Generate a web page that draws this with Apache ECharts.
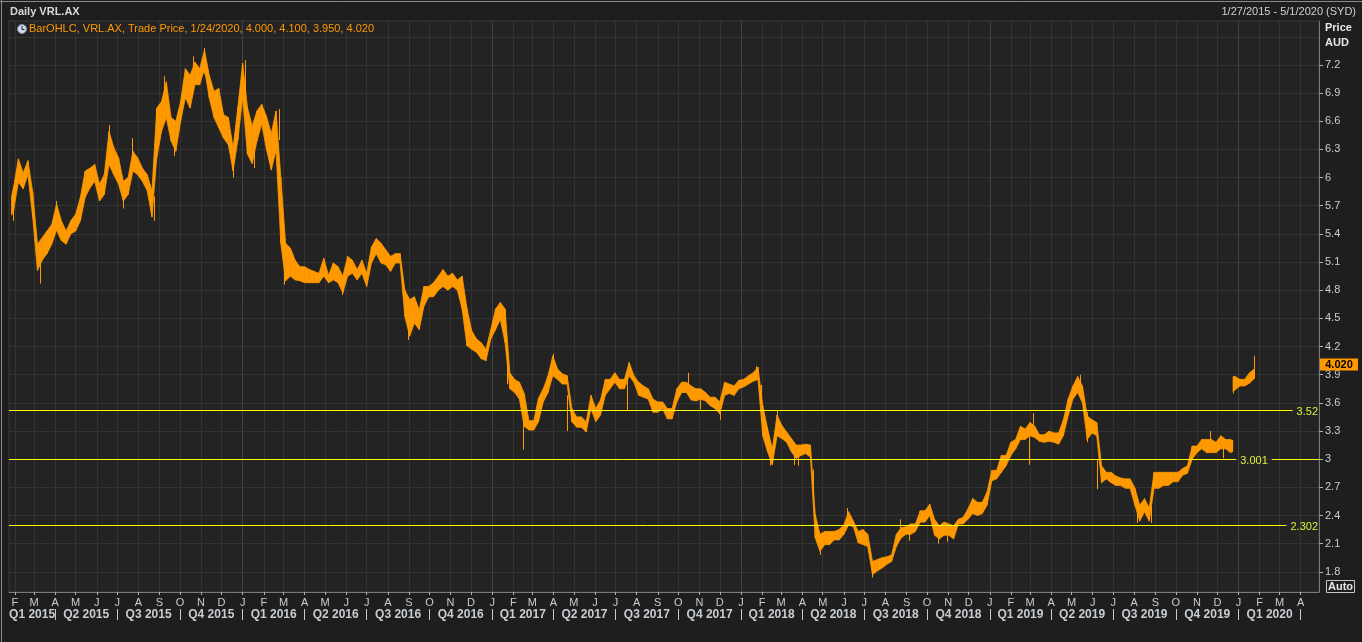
<!DOCTYPE html>
<html><head><meta charset="utf-8">
<script src="https://cdn.jsdelivr.net/npm/echarts@6/dist/echarts.min.js"></script>
<style>html,body{margin:0;padding:0;background:#1e1e1e;overflow:hidden}#chart{width:1362px;height:642px}</style>
</head><body><div id="chart"></div>
<script>
// ---------- DATA ----------
const dates = [
'2015-01-27','2015-01-30','2015-02-06','2015-02-13','2015-02-20','2015-02-27','2015-03-06','2015-03-13','2015-03-20','2015-03-27',
'2015-04-03','2015-04-10','2015-04-17','2015-04-24','2015-05-01','2015-05-08','2015-05-15','2015-05-22','2015-05-29','2015-06-05',
'2015-06-12','2015-06-19','2015-06-26','2015-07-03','2015-07-10','2015-07-17','2015-07-24','2015-07-31','2015-08-07','2015-08-14',
'2015-08-21','2015-08-28','2015-09-04','2015-09-11','2015-09-18','2015-09-25','2015-10-02','2015-10-09','2015-10-16','2015-10-23',
'2015-10-30','2015-11-06','2015-11-13','2015-11-20','2015-11-27','2015-12-04','2015-12-11','2015-12-18','2015-12-25',
'2016-01-01','2016-01-08','2016-01-15','2016-01-22','2016-01-29','2016-02-05','2016-02-12','2016-02-19','2016-02-26','2016-03-04',
'2016-03-11','2016-03-18','2016-03-25','2016-04-01','2016-04-08','2016-04-15','2016-04-22','2016-04-29','2016-05-06','2016-05-13',
'2016-05-20','2016-05-27','2016-06-03','2016-06-10','2016-06-17','2016-06-24','2016-07-01','2016-07-08','2016-07-15','2016-07-22',
'2016-07-29','2016-08-05','2016-08-12','2016-08-19','2016-08-26','2016-09-02','2016-09-09','2016-09-16','2016-09-23','2016-09-30',
'2016-10-07','2016-10-14','2016-10-21','2016-10-28','2016-11-04','2016-11-11','2016-11-18','2016-11-25','2016-12-02','2016-12-09',
'2016-12-16','2016-12-23','2016-12-30',
'2017-01-06','2017-01-13','2017-01-20','2017-01-27','2017-02-03','2017-02-10','2017-02-17','2017-02-24','2017-03-03','2017-03-10',
'2017-03-17','2017-03-24','2017-03-31','2017-04-07','2017-04-14','2017-04-21','2017-04-28','2017-05-05','2017-05-12','2017-05-19',
'2017-05-26','2017-06-02','2017-06-09','2017-06-16','2017-06-23','2017-06-30','2017-07-07','2017-07-14','2017-07-21','2017-07-28',
'2017-08-04','2017-08-11','2017-08-18','2017-08-25','2017-09-01','2017-09-08','2017-09-15','2017-09-22','2017-09-29','2017-10-06',
'2017-10-13','2017-10-20','2017-10-27','2017-11-03','2017-11-10','2017-11-17','2017-11-24','2017-12-01','2017-12-08','2017-12-15',
'2017-12-22','2017-12-29',
'2018-01-05','2018-01-12','2018-01-19','2018-01-26','2018-02-02','2018-02-09','2018-02-16','2018-02-23','2018-03-02','2018-03-09',
'2018-03-16','2018-03-23','2018-03-30','2018-04-06','2018-04-13','2018-04-20','2018-04-27','2018-05-04','2018-05-11','2018-05-18',
'2018-05-25','2018-06-01','2018-06-08','2018-06-15','2018-06-22','2018-06-29','2018-07-06','2018-07-13','2018-07-20','2018-07-27',
'2018-08-03','2018-08-10','2018-08-17','2018-08-24','2018-08-31','2018-09-07','2018-09-14','2018-09-21','2018-09-28','2018-10-05',
'2018-10-12','2018-10-19','2018-10-26','2018-11-02','2018-11-09','2018-11-16','2018-11-23','2018-11-30','2018-12-07','2018-12-14',
'2018-12-21','2018-12-28',
'2019-01-04','2019-01-11','2019-01-18','2019-01-25','2019-02-01','2019-02-08','2019-02-15','2019-02-22','2019-03-01','2019-03-08',
'2019-03-15','2019-03-22','2019-03-29','2019-04-05','2019-04-12','2019-04-19','2019-04-26','2019-05-03','2019-05-10','2019-05-17',
'2019-05-24','2019-05-31','2019-06-07','2019-06-14','2019-06-21','2019-06-28','2019-07-05','2019-07-12','2019-07-19','2019-07-26',
'2019-08-02','2019-08-09','2019-08-16','2019-08-23','2019-08-30','2019-09-06','2019-09-13','2019-09-20','2019-09-27','2019-10-04',
'2019-10-11','2019-10-18','2019-10-25','2019-11-01','2019-11-08','2019-11-15','2019-11-22','2019-11-29','2019-12-06','2019-12-13',
'2019-12-20','2019-12-23','2019-12-23','2019-12-24','2019-12-27',
'2020-01-03','2020-01-10','2020-01-17','2020-01-24'
];
const highs = [
5.80,5.90,6.20,6.05,6.18,5.85,5.29,5.36,5.43,5.50,
5.72,5.54,5.43,5.54,5.61,5.79,6.07,6.10,6.14,5.93,
6.03,6.49,6.32,6.21,5.96,6.00,6.28,6.21,6.10,6.03,
5.86,6.74,6.81,7.02,6.64,6.60,6.81,7.16,7.09,7.23,
7.16,7.36,7.09,6.92,6.95,6.67,6.64,6.32,6.75,
7.22,6.75,6.55,6.71,6.78,6.65,6.47,6.71,6.00,5.30,
5.25,5.12,5.05,5.05,5.02,5.00,4.98,5.14,4.96,5.09,
5.05,4.95,5.16,5.12,5.02,5.12,4.98,5.26,5.35,5.30,
5.23,5.16,5.19,5.19,4.80,4.70,4.73,4.59,4.84,4.84,
4.88,4.95,5.02,4.95,4.98,4.91,4.95,4.61,4.37,4.28,
4.24,4.17,4.38,
4.60,4.67,4.60,3.92,3.85,3.82,3.70,3.41,3.41,3.65,
3.75,3.89,4.10,3.96,3.91,3.89,3.54,3.45,3.45,3.40,
3.68,3.54,3.63,3.85,3.85,3.92,3.85,3.85,4.03,3.89,
3.82,3.78,3.75,3.64,3.61,3.61,3.54,3.54,3.75,3.82,
3.82,3.78,3.75,3.75,3.71,3.66,3.66,3.61,3.82,3.80,
3.78,3.84,
3.85,3.89,3.92,3.98,3.57,3.33,3.11,3.47,3.36,3.29,
3.22,3.15,3.15,3.16,3.15,2.41,2.20,2.23,2.23,2.23,
2.25,2.30,2.44,2.34,2.23,2.25,2.20,1.91,1.93,1.95,
1.96,1.98,2.20,2.27,2.28,2.31,2.31,2.45,2.45,2.52,
2.36,2.29,2.33,2.31,2.29,2.36,2.38,2.47,2.58,2.54,
2.54,2.65,
2.88,2.88,3.04,3.04,3.18,3.21,3.35,3.32,3.39,3.35,
3.26,3.26,3.30,3.28,3.28,3.42,3.64,3.78,3.88,3.78,
3.46,3.42,3.39,2.93,2.86,2.86,2.82,2.80,2.79,2.79,
2.69,2.51,2.58,2.48,2.86,2.86,2.86,2.86,2.86,2.86,
2.90,2.93,3.14,3.14,3.21,3.21,3.21,3.18,3.25,3.21,
3.21,3.20,null,3.88,3.88,
3.85,3.85,3.92,3.96
];
const lows = [
5.60,5.65,5.95,5.88,6.03,5.58,5.01,5.12,5.19,5.29,
5.44,5.33,5.29,5.40,5.43,5.54,5.79,5.89,5.96,5.75,
5.82,6.14,6.03,5.93,5.75,5.82,6.07,6.03,5.96,5.86,
5.58,6.21,6.49,6.64,6.39,6.28,6.60,6.85,6.74,6.99,
6.99,7.16,6.85,6.64,6.53,6.42,6.35,6.07,6.40,
6.85,6.25,6.15,6.39,6.57,6.30,6.08,6.29,5.30,4.90,
4.95,4.91,4.90,4.88,4.88,4.88,4.88,4.95,4.88,4.91,
4.88,4.77,4.95,4.98,4.91,4.98,4.84,5.09,5.19,5.09,
5.07,5.00,5.09,5.09,4.52,4.31,4.45,4.38,4.63,4.73,
4.73,4.80,4.84,4.80,4.84,4.80,4.60,4.21,4.17,4.14,
4.07,4.05,4.28,
4.38,4.49,4.24,3.75,3.71,3.64,3.35,3.31,3.31,3.40,
3.61,3.71,3.89,3.85,3.80,3.80,3.40,3.34,3.34,3.29,
3.54,3.40,3.47,3.68,3.75,3.82,3.75,3.75,3.89,3.82,
3.68,3.66,3.64,3.50,3.50,3.54,3.43,3.43,3.61,3.71,
3.71,3.63,3.62,3.64,3.62,3.57,3.54,3.48,3.68,3.70,
3.68,3.75,
3.77,3.80,3.83,3.85,3.25,3.08,2.94,3.25,3.22,3.18,
3.08,3.01,3.04,3.06,3.02,2.16,2.02,2.09,2.09,2.14,
2.14,2.20,2.30,2.28,2.11,2.09,2.07,1.77,1.81,1.84,
1.88,1.91,2.07,2.16,2.20,2.20,2.23,2.33,2.33,2.40,
2.19,2.15,2.19,2.19,2.15,2.31,2.31,2.36,2.42,2.40,
2.42,2.51,
2.77,2.79,2.86,2.93,3.04,3.11,3.21,3.21,3.25,3.23,
3.19,3.18,3.19,3.18,3.16,3.25,3.46,3.64,3.71,3.60,
3.21,3.28,3.25,2.75,2.79,2.75,2.72,2.72,2.69,2.69,
2.51,2.34,2.44,2.34,2.69,2.69,2.72,2.72,2.76,2.76,
2.83,2.85,3.00,3.07,3.11,3.07,3.07,3.07,3.11,3.11,
3.07,3.08,null,3.72,3.74,
3.78,3.78,3.81,3.86
];
// isolated daily extremes (wicks) visible beyond the weekly band
const spikeDates = ['2015-01-29','2015-03-09','2015-04-02','2015-06-19','2015-07-09','2015-07-22','2015-08-24','2015-09-08','2015-09-23','2015-10-20',
'2015-11-06','2015-12-18','2016-01-04','2016-01-18','2016-02-24','2016-03-01','2016-05-26','2016-08-31','2016-11-18','2017-01-23',
'2017-02-16','2017-03-31','2017-04-21','2017-07-18','2017-10-16','2017-11-02','2017-12-01','2018-01-23','2018-01-30','2018-02-13',
'2018-02-23','2018-03-20','2018-03-26','2018-04-16','2018-04-27','2018-06-05','2018-07-12','2018-08-23','2018-09-05','2018-10-17',
'2018-10-31','2019-02-27','2019-03-06','2019-05-13','2019-05-23','2019-06-07','2019-08-05','2019-08-26','2019-11-20','2019-12-09',
'2019-12-24','2020-01-24'];
const spikeLows = [5.54,4.87,5.50,6.20,5.67,6.10,5.54,6.70,6.23,7.00,
7.10,6.00,6.90,6.10,6.40,4.86,4.75,4.27,4.56,3.80,
3.10,3.90,3.30,3.52,3.70,3.53,3.42,3.85,3.40,2.93,
3.30,2.94,2.93,2.55,1.98,2.30,1.74,2.20,2.13,2.10,
2.12,2.94,3.30,3.75,3.18,2.68,2.32,2.32,3.10,3.01,
3.70,3.95];
const spikeHighs = [5.80,5.10,5.75,6.56,5.90,6.42,5.80,7.08,6.50,7.29,
7.38,6.30,7.25,6.40,6.73,5.20,4.95,4.50,4.80,4.14,
3.50,4.12,3.68,3.90,3.92,3.70,3.60,3.99,3.79,3.10,
3.52,3.15,3.10,2.89,2.20,2.48,1.90,2.36,2.25,2.25,
2.25,3.25,3.49,3.90,3.50,3.00,2.50,2.50,3.30,3.15,
3.85,4.10];

const levels = [3.52, 3.001, 2.302];
const levelLabels = ['3.52', '3.001', '2.302'];

const priceLabels = [1.8, 2.1, 2.4, 2.7, 3, 3.3, 3.6, 3.9, 4.2, 4.5, 4.8, 5.1, 5.4, 5.7, 6, 6.3, 6.6, 6.9, 7.2];
const priceGrid = [1.8, 2.1, 2.4, 2.7, 3, 3.3, 3.6, 3.9, 4.2, 4.5, 4.8, 5.1, 5.4, 5.7, 6, 6.3, 6.6, 6.9, 7.2, 7.5];
const monthLetters = ['J','F','M','A','M','J','J','A','S','O','N','D'];

const legendText = 'BarOHLC, VRL.AX, Trade Price, 1/24/2020, 4.000, 4.100, 3.950, 4.020';
const lastClose = 4.020;
const titleText = 'Daily VRL.AX';
const rangeText = '1/27/2015 - 5/1/2020 (SYD)';

// ---------- STYLE / HELPERS ----------
const ORANGE = '#ff9900';
const FONT = '"Liberation Sans", Arial, sans-serif';
const AXIS_TXT = '#c8cdd2';
const ts = s => { const p = s.split('-').map(Number); return new Date(p[0], p[1] - 1, p[2]).getTime(); };
const xMin = new Date(2015, 0, 23, 6).getTime();
const xMax = new Date(2020, 3, 28).getTime();
const yMin = 1.585, yMax = 7.668;

const monthTicks = [];
const quarterTicks = [];
for (let y = 2015; y <= 2020; y++) for (let m = 0; m < 12; m++) {
  const t = new Date(y, m, 1).getTime();
  if (t > xMin && t < xMax) { monthTicks.push(t); if (m % 3 === 0) quarterTicks.push(t); }
}
const quarterCenters = [];
for (let y = 2015; y <= 2020; y++) for (let q = 0; q < 4; q++) {
  const a = Math.max(new Date(y, q * 3, 1).getTime(), xMin);
  const b = Math.min(new Date(y, q * 3 + 3, 1).getTime(), xMax);
  if (b - a > 40 * 86400000) quarterCenters.push(Math.round((a + b) / 2));
}
const janColors = monthTicks.map(t => new Date(t).getMonth() === 0 ? '#424242' : '#333333');

const chart = echarts.init(document.getElementById('chart'));
const X = dates.map(ts);

function ribbon(params, api) {
  const i = params.dataIndex, j = i + 1;
  if (highs[i] == null) return null;
  if (j >= X.length || highs[j] == null) {
    const a = api.coord([X[i], highs[i]]), b = api.coord([X[i], lows[i]]);
    return { type: 'line', shape: { x1: a[0], y1: a[1], x2: b[0], y2: b[1] }, style: { stroke: ORANGE, lineWidth: 1.5 } };
  }
  const p1 = api.coord([X[i], highs[i]]), p2 = api.coord([X[j], highs[j]]);
  const p3 = api.coord([X[j], lows[j]]), p4 = api.coord([X[i], lows[i]]);
  return { type: 'polygon', shape: { points: [p1, p2, p3, p4] }, style: { fill: ORANGE, stroke: ORANGE, lineWidth: 0.8 } };
}
function spike(params, api) {
  const a = api.coord([api.value(0), api.value(2)]), b = api.coord([api.value(0), api.value(1)]);
  const x = Math.round(a[0]) + 0.5;
  return { type: 'line', shape: { x1: x, y1: a[1], x2: x, y2: b[1] }, style: { stroke: ORANGE, lineWidth: 1 } };
}
const measure = (() => { const c = document.createElement('canvas').getContext('2d'); c.font = '11px ' + FONT; return s => c.measureText(s).width; })();
const levelLabelMode = ['right', 'center', 'right'];
function levelLine(params, api) {
  const i = params.dataIndex, cs = params.coordSys;
  const y = Math.round(api.coord([xMin, api.value(1)])[1]) + 0.5;
  const left = cs.x, right = cs.x + cs.width;
  const w = measure(levelLabels[i]);
  const tx = levelLabelMode[i] === 'right' ? right - 1 - w : right - 65 - w / 2;
  const children = [
    { type: 'line', shape: { x1: left, y1: y, x2: tx - 4, y2: y }, style: { stroke: '#ffff00', lineWidth: 1 } },
    { type: 'text', style: { text: levelLabels[i], x: tx, y: y + 1, fill: '#dcf03c', font: '11px ' + FONT, align: 'left', verticalAlign: 'middle' } }
  ];
  if (tx + w + 4 < right - 6) children.push({ type: 'line', shape: { x1: tx + w + 4, y1: y, x2: right, y2: y }, style: { stroke: '#ffff00', lineWidth: 1 } });
  return { type: 'group', children };
}

const option = {
  animation: false,
  backgroundColor: '#1e1e1e',
  textStyle: { fontFamily: FONT },
  grid: { left: 9, right: 43, top: 21, bottom: 50, show: true, backgroundColor: '#232323', borderColor: '#3a3a3a', borderWidth: 1, containLabel: false, outerBoundsMode: 'none' },
  xAxis: [
    { type: 'value', min: xMin, max: xMax, position: 'bottom', scale: true,
      axisLine: { show: true, lineStyle: { color: '#7a7a7a', width: 1 } },
      axisTick: { show: true, customValues: monthTicks, length: 3, lineStyle: { color: '#b0b0b0' } },
      axisLabel: { customValues: monthTicks, color: AXIS_TXT, fontSize: 11, margin: 5, hideOverlap: false, showMinLabel: true, showMaxLabel: true,
        formatter: v => monthLetters[new Date(v).getMonth()] },
      splitLine: { show: true, lineStyle: { color: janColors, width: 1 } } },
    { type: 'value', min: xMin, max: xMax, position: 'bottom', offset: 17, scale: true,
      axisLine: { show: false },
      axisTick: { show: true, customValues: quarterTicks, length: 11, lineStyle: { color: '#c8c8c8' } },
      axisLabel: { customValues: quarterCenters, color: AXIS_TXT, fontSize: 12, fontWeight: 'bold', margin: 0, hideOverlap: false,
        formatter: v => { const d = new Date(v); return 'Q' + (Math.floor(d.getMonth() / 3) + 1) + ' ' + d.getFullYear(); } },
      splitLine: { show: false } }
  ],
  yAxis: [
    { type: 'value', position: 'right', min: yMin, max: yMax,
      axisLine: { show: true, lineStyle: { color: '#7a7a7a' } },
      axisTick: { show: true, customValues: priceLabels, length: 4, lineStyle: { color: '#b0b0b0' } },
      axisLabel: { customValues: priceLabels, color: AXIS_TXT, fontSize: 11, margin: 6, formatter: v => String(+(+v).toFixed(1)) },
      splitLine: { show: false } },
    { type: 'value', position: 'right', min: yMin, max: yMax,
      axisLine: { show: false }, axisLabel: { show: false },
      axisTick: { show: false, customValues: priceGrid },
      splitLine: { show: true, lineStyle: { color: '#333333' } } }
  ],
  series: [
    { type: 'custom', name: 'band', renderItem: ribbon, data: X.map((x, i) => [x, lows[i], highs[i]]), encode: { x: 0, y: [1, 2] }, z: 3, silent: true },
    { type: 'custom', name: 'wicks', renderItem: spike, data: spikeDates.map((d, i) => [ts(d), spikeLows[i], spikeHighs[i]]), encode: { x: 0, y: [1, 2] }, z: 3, silent: true },
    { type: 'custom', name: 'levels', renderItem: levelLine, data: levels.map(v => [xMin, v]), encode: { x: 0, y: 1 }, z: 5, silent: true }
  ],
  graphic: [
    { type: 'line', z: 50, shape: { x1: 0, y1: 1.5, x2: 1362, y2: 1.5 }, style: { stroke: '#8a8a8a', lineWidth: 1 } },
    { type: 'line', z: 50, shape: { x1: 1.5, y1: 0, x2: 1.5, y2: 642 }, style: { stroke: '#8a8a8a', lineWidth: 1 } },
    { type: 'text', z: 50, x: 10, y: 12, style: { text: titleText, fill: '#d8d8d8', font: 'bold 11px ' + FONT, verticalAlign: 'middle' } },
    { type: 'text', z: 50, x: 1356, y: 12, style: { text: rangeText, fill: '#d0d0d0', font: '11px ' + FONT, align: 'right', verticalAlign: 'middle' } },
    { type: 'circle', z: 50, shape: { cx: 22, cy: 29, r: 4.5 }, style: { fill: '#cfdcea', stroke: '#7c8fa3', lineWidth: 1 } },
    { type: 'polyline', z: 51, shape: { points: [[22, 26], [22, 29.5], [24.5, 29.5]] }, style: { stroke: '#1a1a1a', lineWidth: 1, fill: null } },
    { type: 'text', z: 50, x: 29, y: 29, style: { text: legendText, fill: ORANGE, font: '11px ' + FONT, verticalAlign: 'middle' } },
    { type: 'text', z: 50, x: 1325, y: 28, style: { text: 'Price', fill: '#e6e6e6', font: 'bold 11px ' + FONT, verticalAlign: 'middle' } },
    { type: 'text', z: 50, x: 1325, y: 43, style: { text: 'AUD', fill: '#e6e6e6', font: 'bold 11px ' + FONT, verticalAlign: 'middle' } },
    { type: 'rect', z: 50, shape: { x: 1326.5, y: 580.5, width: 28, height: 12 }, style: { fill: 'none', stroke: '#c8c8c8', lineWidth: 1 } },
    { type: 'text', z: 50, x: 1340.5, y: 587, style: { text: 'Auto', fill: '#e6e6e6', font: 'bold 11px ' + FONT, align: 'center', verticalAlign: 'middle' } }
  ]
};
chart.setOption(option);

const py = chart.convertToPixel({ yAxisIndex: 0 }, lastClose);
chart.setOption({ graphic: option.graphic.concat([
  { type: 'rect', z: 100, shape: { x: 1320, y: py - 5, width: 38, height: 12 }, style: { fill: ORANGE } },
  { type: 'text', z: 101, x: 1339, y: py + 1.5, style: { text: lastClose.toFixed(3), fill: '#000000', font: 'bold 11px ' + FONT, align: 'center', verticalAlign: 'middle' } }
]) });
</script>
</body></html>
